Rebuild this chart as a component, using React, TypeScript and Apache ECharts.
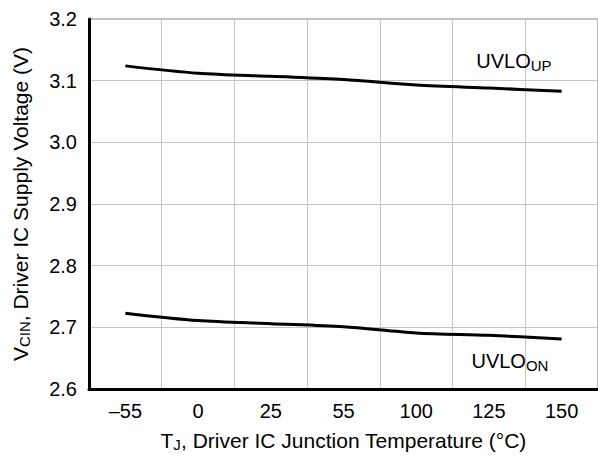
import React, { useEffect, useRef } from "react";
import * as echarts from "echarts";

const temperatures = ["–55", "0", "25", "55", "100", "125", "150"];
const uvloUp = [3.124, 3.112, 3.107, 3.102, 3.093, 3.088, 3.083];
const uvloOn = [2.723, 2.711, 2.706, 2.701, 2.691, 2.687, 2.681];
const yTicks = { min: 2.6, max: 3.2, interval: 0.1 };
const labelIndex = 5;

const FONT = "Liberation Sans, Arial, Helvetica, sans-serif";
const FS = 20;
const TFS = 21;

export default function App() {
  const ref = useRef<HTMLDivElement>(null);
  useEffect(() => {
    if (!ref.current) return;
    const chart = echarts.init(ref.current, undefined, { renderer: "svg" });
    const rich = {
      m: { fontSize: TFS, fontFamily: FONT, color: "#000", lineHeight: 26 },
      s: { fontSize: 15, fontFamily: FONT, color: "#000", lineHeight: 26, padding: [9, 0, 0, 0] },
    };
    const richLbl = {
      m: { fontSize: FS, fontFamily: FONT, color: "#000", lineHeight: 26 },
      s: { fontSize: 15, fontFamily: FONT, color: "#000", lineHeight: 26, padding: [9, 0, 0, 0] },
    };
    const mark = (values: number[], text: string, offset: number[]) => ({
      silent: true,
      symbol: "circle",
      symbolSize: 0,
      itemStyle: { color: "transparent" },
      data: [
        {
          coord: [labelIndex, values[labelIndex]],
          label: { show: true, position: "inside", offset, formatter: text, rich: richLbl },
        },
      ],
    });
    chart.setOption({
      animation: false,
      textStyle: { fontFamily: FONT },
      grid: {
        left: 88,
        right: -1,
        top: 19,
        bottom: 67,
        show: true,
        borderColor: "#808080",
        borderWidth: 1,
        backgroundColor: "transparent",
      },
      xAxis: {
        type: "category",
        data: temperatures,
        boundaryGap: true,
        axisLine: { show: true, lineStyle: { color: "#000", width: 3 } },
        axisTick: { show: false },
        axisLabel: { color: "#000", fontSize: FS, fontFamily: FONT, margin: 12 },
        splitLine: { show: true, lineStyle: { color: "#c4c4c4", width: 1 } },
        name: "{m|T}{s|J}{m|, Driver IC Junction Temperature (°C)}",
        nameLocation: "middle",
        nameGap: 38,
        nameTextStyle: { rich },
      },
      yAxis: {
        type: "value",
        min: yTicks.min,
        max: yTicks.max,
        interval: yTicks.interval,
        axisLine: { show: true, lineStyle: { color: "#000", width: 3 } },
        axisTick: { show: false },
        axisLabel: {
          color: "#000",
          fontSize: FS,
          fontFamily: FONT,
          margin: 12,
          formatter: (v: number) => v.toFixed(1),
        },
        splitLine: { show: true, lineStyle: { color: "#c4c4c4", width: 1 } },
        name: "{m|V}{s|CIN}{m|, Driver IC Supply Voltage (V)}",
        nameLocation: "middle",
        nameGap: 56,
        nameTextStyle: { rich },
      },
      series: [
        {
          type: "line",
          data: uvloUp,
          smooth: 0.3,
          symbol: "none",
          lineStyle: { color: "#000", width: 3 },
          itemStyle: { color: "#000" },
          markPoint: mark(uvloUp, "{m|UVLO}{s|UP}", [25, -27]),
        },
        {
          type: "line",
          data: uvloOn,
          smooth: 0.3,
          symbol: "none",
          lineStyle: { color: "#000", width: 3 },
          itemStyle: { color: "#000" },
          markPoint: mark(uvloOn, "{m|UVLO}{s|ON}", [21, 26]),
        },
      ],
    });
    return () => chart.dispose();
  }, []);
  return (
    <div
      ref={ref}
      style={{ position: "absolute", left: 0, top: 0, width: 598, height: 457, background: "#fff" }}
    />
  );
}
